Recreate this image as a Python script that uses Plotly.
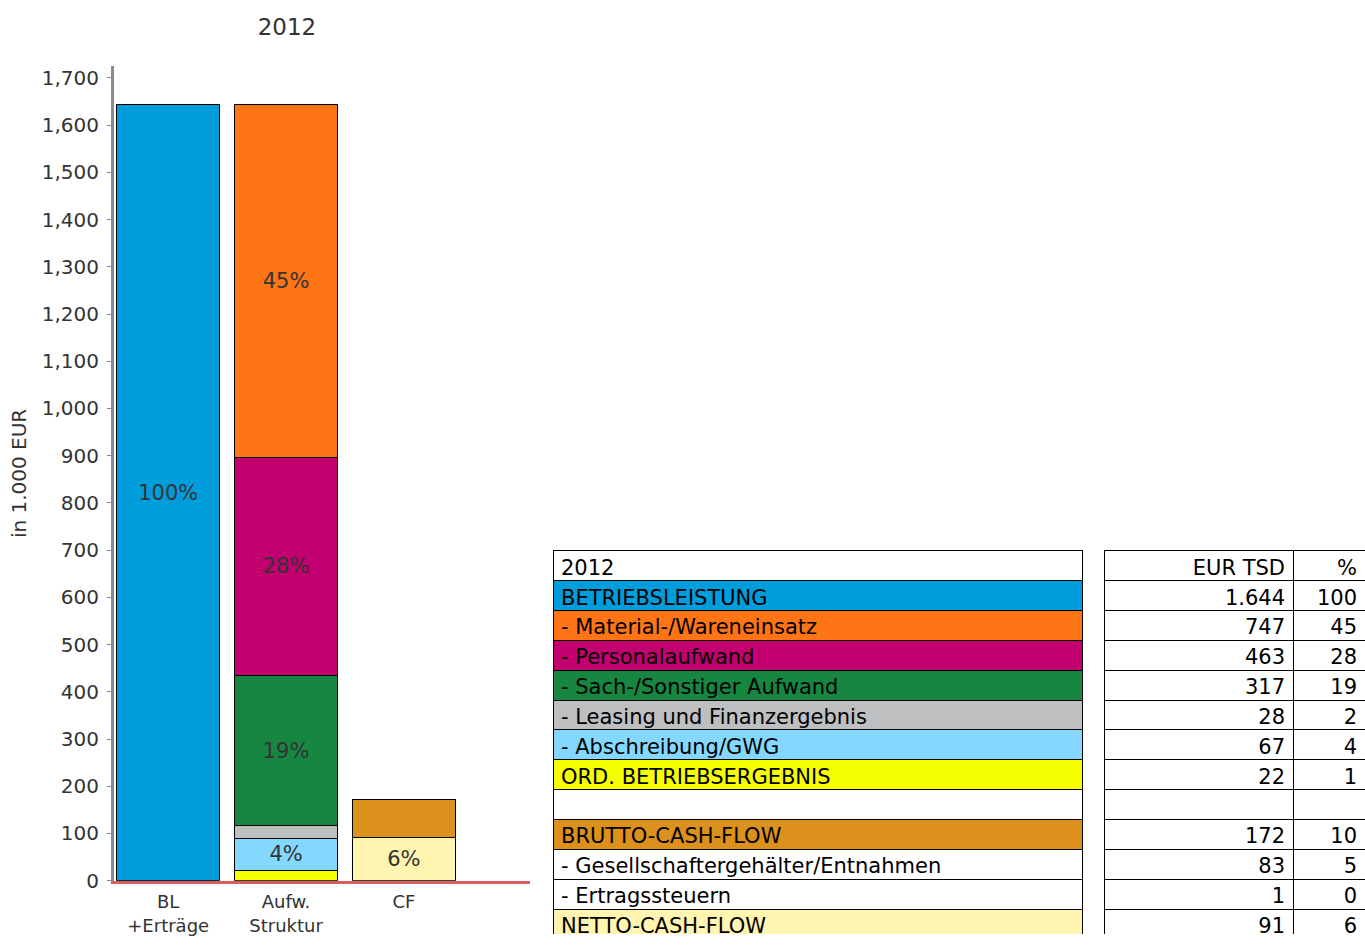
import plotly.graph_objects as go

# ---------------- data ----------------
year = "2012"
row_labels = [
    "BETRIEBSLEISTUNG",
    "- Material-/Wareneinsatz",
    "- Personalaufwand",
    "- Sach-/Sonstiger Aufwand",
    "- Leasing und Finanzergebnis",
    "- Abschreibung/GWG",
    "ORD. BETRIEBSERGEBNIS",
    "",
    "BRUTTO-CASH-FLOW",
    "- Gesellschaftergehälter/Entnahmen",
    "- Ertragssteuern",
    "NETTO-CASH-FLOW",
]
eur_tsd = [1644, 747, 463, 317, 28, 67, 22, None, 172, 83, 1, 91]
pct = [100, 45, 28, 19, 2, 4, 1, None, 10, 5, 0, 6]
row_colors = ["#009DDC", "#FF7415", "#C2006F", "#168641", "#BDBFC1", "#84D8FF",
              "#F5FF00", "#FFFFFF", "#DB911C", "#FFFFFF", "#FFFFFF", "#FFF4B0"]

categories = ["BL<br>+Erträge", "Aufw.<br>Struktur", "CF"]
# Aufwand stack, bottom -> top (indices into the arrays above)
aufw_stack = [6, 5, 4, 3, 2, 1]
labelled = {0, 1, 2, 3, 5, 11}   # rows whose % is printed inside the bar

FONT = "DejaVu Sans"
TXT = "#333333"
W, H = 1365, 946

fig = go.Figure()

def add_bar(cat, value, color, label):
    fig.add_trace(go.Bar(
        x=[cat], y=[value],
        marker=dict(color=color, line=dict(color="black", width=1)),
        text=[label] if label else None,
        textposition="inside", insidetextanchor="middle", textangle=0,
        textfont=dict(family=FONT, size=21, color=TXT),
        width=0.87, showlegend=False, hoverinfo="skip",
    ))

# BL + Erträge
add_bar(categories[0], eur_tsd[0], row_colors[0], f"{pct[0]}%" if 0 in labelled else None)
# Aufwandsstruktur
for i in aufw_stack:
    add_bar(categories[1], eur_tsd[i], row_colors[i], f"{pct[i]}%" if i in labelled else None)
# Cash-Flow: netto + (brutto - netto)
add_bar(categories[2], eur_tsd[11], row_colors[11], f"{pct[11]}%" if 11 in labelled else None)
add_bar(categories[2], eur_tsd[8] - eur_tsd[11], row_colors[8], None)

# ---------------- tables ----------------
NB = "\u00a0"
def nb(s):
    return s.replace(" ", NB)

def de(v):
    return "" if v is None else f"{v:,}".replace(",", ".")

n_rows = len(row_labels) + 1
row_h = 388 / n_rows

fig.add_trace(go.Table(
    domain=dict(x=[553 / W, 1083 / W], y=[0, 388 / H]),
    header=dict(values=[year], fill_color="white", align="left",
                line=dict(color="black", width=1), height=row_h,
                font=dict(family=FONT, size=21, color="black")),
    cells=dict(values=[[nb(s) for s in row_labels]], fill_color=[row_colors], align="left",
               line=dict(color="black", width=1), height=row_h,
               font=dict(family=FONT, size=21, color="black")),
))

fig.add_trace(go.Table(
    domain=dict(x=[1104 / W, 1.0], y=[0, 388 / H]),
    columnwidth=[189, 72],
    header=dict(values=[nb("EUR TSD"), "%"], fill_color="white", align="right",
                line=dict(color="black", width=1), height=row_h,
                font=dict(family=FONT, size=21, color="black")),
    cells=dict(values=[[de(v) for v in eur_tsd], ["" if p is None else str(p) for p in pct]],
               fill_color="white", align="right",
               line=dict(color="black", width=1), height=row_h,
               font=dict(family=FONT, size=21, color="black")),
))

fig.update_layout(
    width=W, height=H,
    margin=dict(l=0, r=0, t=0, b=0),
    paper_bgcolor="white", plot_bgcolor="white",
    barmode="stack",
    title=dict(text=year, x=287 / W, xanchor="center", y=1 - 27 / H, yanchor="middle",
               font=dict(family=FONT, size=23, color=TXT)),
    xaxis=dict(domain=[114 / W, 530 / W], type="category",
               categoryorder="array", categoryarray=categories,
               range=[-0.46, 3.07], showgrid=False, ticks="",
               showline=True, linecolor="#D35F5F", linewidth=3,
               ticklabelstandoff=3,
               tickfont=dict(family=FONT, size=18, color=TXT)),
    yaxis=dict(domain=[54 / H, 879 / H], range=[0, 1725], dtick=100,
               tickformat=",d", showgrid=False, zeroline=False,
               showline=True, linecolor="#8C8C8C", linewidth=3,
               ticks="outside", ticklen=4, tickcolor="#8C8C8C", tickwidth=1,
               ticklabelstandoff=4,
               tickfont=dict(family=FONT, size=20, color=TXT),
               title=dict(text="in 1.000 EUR", standoff=10,
                          font=dict(family=FONT, size=20, color=TXT))),
    font=dict(family=FONT, color=TXT),
)

fig.write_html("out.html")
